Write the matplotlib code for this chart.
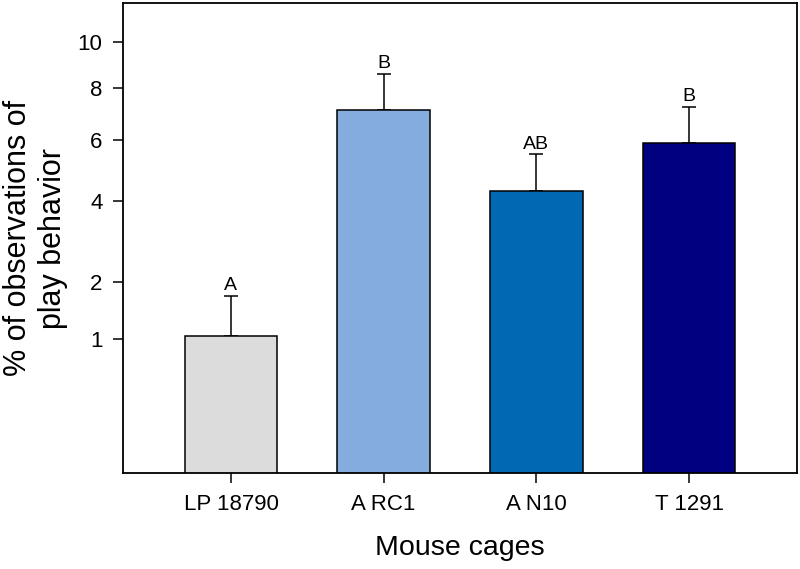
import numpy as np
import matplotlib
matplotlib.use("Agg")
import matplotlib.pyplot as plt

plt.rcParams['font.family'] = ['Liberation Sans', 'DejaVu Sans']

categories = ["LP 18790", "A RC1", "A N10", "T 1291"]
means = [1.05, 7.09, 4.31, 5.87]
err_tops = [1.73, 8.57, 5.49, 7.23]
letters = ["A", "B", "AB", "B"]
colors = ["#DCDCDC", "#85ACDE", "#0069B4", "#000080"]
yticks = [1, 2, 4, 6, 8, 10]

fig = plt.figure(figsize=(8, 5.69), dpi=100)
ax = fig.add_axes([123.3 / 800, 1 - 473 / 569, (796.7 - 123.3) / 800, (473 - 3.3) / 569])

ax.set_yscale('function', functions=(lambda v: np.sqrt(np.clip(v, 0, None)), lambda v: v ** 2))

x = np.arange(len(categories))
upper = [t - m for t, m in zip(err_tops, means)]
ax.bar(x, means, width=0.605, color=colors, edgecolor='black', linewidth=1.1, zorder=2)
ax.errorbar(x, means, yerr=[np.zeros(len(x)), upper], fmt='none', ecolor='black',
            elinewidth=1.1, capsize=5.2, capthick=1.1, zorder=1)

for xi, t, lab in zip(x, err_tops, letters):
    ax.annotate(lab, (xi, t), xytext=(0, 4), textcoords='offset points',
                ha='center', va='baseline', fontsize=14)

ax.set_xlim(-0.705, 3.705)
ax.set_ylim(0.00065, 11.84)
ax.set_yticks(yticks)
ax.set_yticklabels([str(v) for v in yticks])
ax.minorticks_off()
ax.set_xticks(x)
ax.set_xticklabels(categories)

ax.tick_params(axis='both', direction='out', length=7, width=1.1, labelsize=16)
ax.tick_params(axis='y', pad=8)
ax.tick_params(axis='x', pad=8)
for s in ax.spines.values():
    s.set_linewidth(1.3)

ax.set_xlabel("Mouse cages", fontsize=20.5)
ax.xaxis.set_label_coords(0.5, -0.132)
ax.set_ylabel("% of observations of\nplay behavior", fontsize=22, linespacing=1.2)
ax.yaxis.set_label_coords(-0.082, 0.5)

fig.savefig("out.png", dpi=100)
